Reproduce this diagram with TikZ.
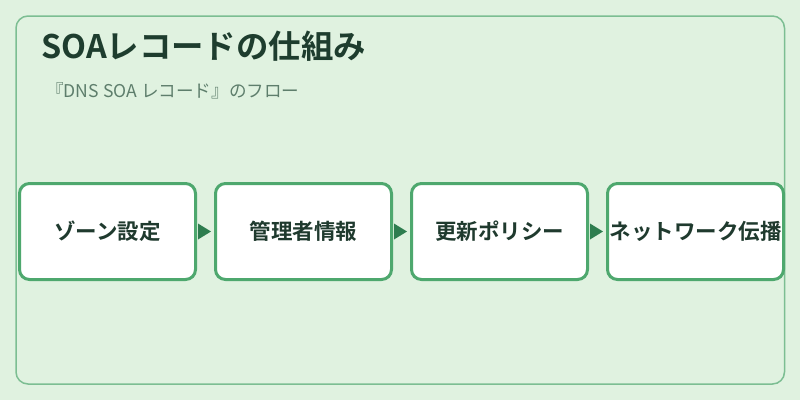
\documentclass[tikz,border=0pt]{standalone}
\usepackage{fontspec}
\setmainfont{Noto Sans CJK JP}
\newfontfamily\jpbold{Noto Sans CJK JP Bold}
\definecolor{bgc}{HTML}{E0F2E0}
\definecolor{framec}{HTML}{7CBE92}
\definecolor{boxc}{HTML}{4EA86E}
\definecolor{titlec}{HTML}{1E3D2E}
\definecolor{subc}{HTML}{5E7E6C}
\definecolor{textc}{HTML}{1F3A2E}
\definecolor{arrc}{HTML}{2E7D4F}
\begin{document}
\begin{tikzpicture}[x=1pt,y=-1pt,
  stepbox/.style={draw=boxc,line width=3pt,fill=white,rounded corners=10pt,
    minimum width=176pt,minimum height=96pt,inner sep=0pt,anchor=north west,
    font=\jpbold\fontsize{21.5}{25}\selectfont,text=textc},
  arrowtri/.style={fill=arrc}]
\useasboundingbox (0,0) rectangle (800,400);
\fill[bgc] (0,0) rectangle (800,400);
\draw[framec,line width=1.5pt,rounded corners=12pt] (16,16) rectangle (784.5,384);
\node[anchor=base west,inner sep=0pt,text=titlec,font=\jpbold\fontsize{32.4}{36}\selectfont] (title) at (41,58) {SOAレコードの仕組み};
\node[anchor=base west,inner sep=0pt,text=subc,font=\fontsize{17.6}{20}\selectfont] (sub) at (46,97) {『DNS SOA レコード』のフロー};
\node[stepbox] (b1) at (18,182) {ゾーン設定};
\node[stepbox] (b2) at (214,182) {管理者情報};
\node[stepbox] (b3) at (410,182) {更新ポリシー};
\node[stepbox] (b4) at (606,182) {ネットワーク伝播};
\foreach \b in {b2,b3,b4}{
  \fill[arrowtri] ([xshift=-16pt,yshift=-8pt]\b.west) -- ([xshift=-3pt]\b.west) -- ([xshift=-16pt,yshift=8pt]\b.west) -- cycle;
}
\end{tikzpicture}
\end{document}
